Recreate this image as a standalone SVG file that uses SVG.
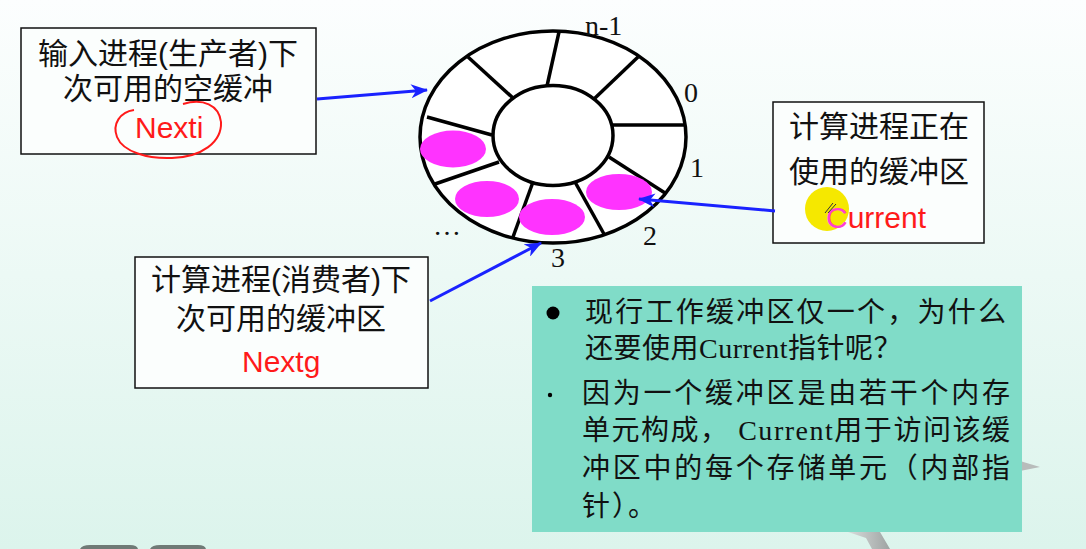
<svg xmlns="http://www.w3.org/2000/svg" width="1086" height="549" viewBox="0 0 1086 549">
<defs>
<linearGradient id="bg" x1="0" y1="0" x2="0" y2="1">
<stop offset="0" stop-color="#fcfefe"/>
<stop offset="1" stop-color="#dcf4ec"/>
</linearGradient>
<linearGradient id="star" x1="0" y1="0" x2="1" y2="0">
<stop offset="0" stop-color="#d8dcdb"/>
<stop offset="1" stop-color="#9ea3a2"/>
</linearGradient>
<marker id="ah" markerUnits="userSpaceOnUse" markerWidth="18" markerHeight="14" viewBox="0 0 18 14" refX="16" refY="7" orient="auto">
<path d="M0,0 L17,7 L0,14 L5,7 z" fill="#1a22ff"/>
</marker>
<style>
.box{fill:#fbfefd;stroke:#111;stroke-width:1.5}
.cjk{font-family:"Liberation Sans","Noto Sans CJK SC",sans-serif;font-size:30px;fill:#111;text-anchor:middle}
.red{font-family:"Liberation Sans",Arial,sans-serif;font-size:30px;fill:#ff1a1a}
.num{font-family:"Liberation Serif","Times New Roman",serif;font-size:28px;fill:#111}
.ring{fill:#fff;stroke:#000;stroke-width:3.5}
.spoke{stroke:#000;stroke-width:3.5;fill:none}
.buf{fill:#ff33ff}
.arrow{stroke:#1a22ff;stroke-width:3;fill:none;marker-end:url(#ah)}
.note{font-family:"Liberation Serif","Noto Sans CJK SC",serif;font-size:28px;fill:#111}
</style>
</defs>
<rect x="0" y="0" width="1086" height="549" fill="url(#bg)"/>

<!-- decorative bits at bottom -->
<g id="decor">
<path d="M80,549 Q82,545 90,545 L130,545 Q137,545 138,549 Z" fill="#6f7a76"/>
<path d="M150,549 Q152,545 160,545 L198,545 Q205,545 206,549 Z" fill="#6f7a76"/>
<path d="M1020,461 L1040,467 L1020,471 Z" fill="#b8bcbb"/>
<path d="M848,532 L866,538 L872,549 L890,549 L880,532 Z" fill="url(#star)"/>
</g>

<!-- ring buffer -->
<g id="ring">
<ellipse class="ring" cx="553" cy="137" rx="133" ry="106"/>
<ellipse class="ring" cx="553" cy="135.5" rx="60" ry="50"/>
<line class="spoke" x1="559" y1="32" x2="547" y2="86"/>
<line class="spoke" x1="638" y1="57" x2="594" y2="99"/>
<line class="spoke" x1="685" y1="125" x2="612" y2="125"/>
<line class="spoke" x1="665" y1="193" x2="609" y2="157"/>
<line class="spoke" x1="604" y1="234" x2="575" y2="182"/>
<line class="spoke" x1="533" y1="182" x2="513" y2="237"/>
<line class="spoke" x1="499" y1="162" x2="435" y2="184"/>
<line class="spoke" x1="492" y1="135" x2="427" y2="117"/>
<line class="spoke" x1="513" y1="98" x2="468" y2="57"/>
<ellipse class="buf" cx="453" cy="149" rx="33" ry="18.5"/>
<ellipse class="buf" cx="487" cy="199" rx="32" ry="18"/>
<ellipse class="buf" cx="552" cy="217" rx="33" ry="18"/>
<ellipse class="buf" cx="619" cy="192" rx="33" ry="18"/>
<text class="num" x="585" y="35">n-1</text>
<text class="num" x="684" y="102">0</text>
<text class="num" x="690" y="177">1</text>
<text class="num" x="643" y="245">2</text>
<text class="num" x="551" y="267">3</text>
<text class="num" x="433" y="235">…</text>
</g>

<!-- producer box -->
<g id="nexti">
<rect class="box" x="21" y="28" width="295" height="126"/>
<text class="cjk" x="168" y="64">输入进程(生产者)下</text>
<text class="cjk" x="168" y="99">次可用的空缓冲</text>
<text class="red" x="135" y="138">Nexti</text>
<path d="M134,110 C120,112 112,124 117,137 C123,152 148,159 172,158 C202,157 222,142 221,122 C219,105 203,98 183,104" fill="none" stroke="#ff1a1a" stroke-width="2"/>
</g>

<!-- current box -->
<g id="current">
<rect class="box" x="773" y="102" width="211" height="141"/>
<text class="cjk" x="879" y="137">计算进程正在</text>
<text class="cjk" x="879" y="182">使用的缓冲区</text>
<circle cx="827" cy="209" r="22" fill="#f5e800"/>
<text class="red" x="826" y="228"><tspan fill="#ff3fd0">C</tspan>urrent</text>
<path d="M825,213 L833,203 M828,213 L836,204" stroke="#333" stroke-width="1" fill="none"/>
</g>

<!-- consumer box -->
<g id="nextg">
<rect class="box" x="135" y="257" width="293" height="131"/>
<text class="cjk" x="281" y="290">计算进程(消费者)下</text>
<text class="cjk" x="281" y="329">次可用的缓冲区</text>
<text class="red" x="242" y="372">Nextg</text>
</g>

<!-- connectors -->
<g id="connectors">
<line class="arrow" x1="317" y1="99" x2="427" y2="90"/>
<line class="arrow" x1="775" y1="211" x2="639" y2="199"/>
<line class="arrow" x1="430" y1="301" x2="541" y2="243"/>
</g>

<!-- note box -->
<g id="note">
<rect x="532" y="286" width="490" height="246" fill="#80dcc8"/>
<circle cx="553" cy="313" r="6.5" fill="#000"/>
<text class="note" x="585" y="322" textLength="421" lengthAdjust="spacing">现行工作缓冲区仅一个，为什么</text>
<text class="note" x="585" y="358" letter-spacing="0.5">还要使用Current指针呢？</text>
<circle cx="550" cy="395" r="2.2" fill="#000"/>
<text class="note" x="582" y="403" textLength="428" lengthAdjust="spacing">因为一个缓冲区是由若干个内存</text>
<text class="note" x="582" y="440" textLength="428" lengthAdjust="spacing">单元构成， Current用于访问该缓</text>
<text class="note" x="582" y="478" textLength="428" lengthAdjust="spacing">冲区中的每个存储单元（内部指</text>
<text class="note" x="582" y="516" letter-spacing="2">针）。</text>
</g>
</svg>
